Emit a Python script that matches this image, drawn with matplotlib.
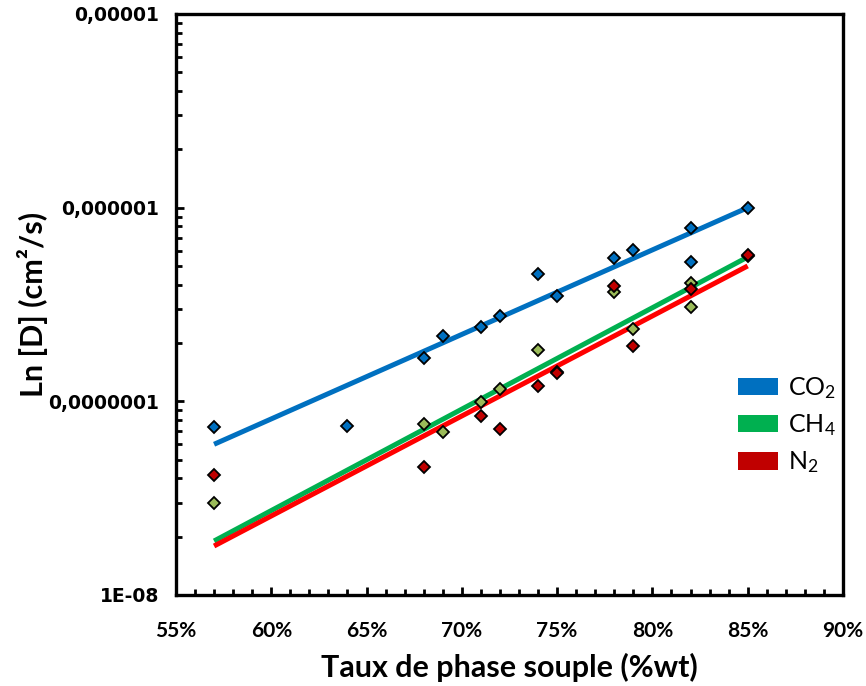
import matplotlib.pyplot as plt
import numpy as np
from matplotlib.patches import Patch
from matplotlib.ticker import FixedLocator, MultipleLocator, LogLocator, NullFormatter

plt.rcParams['mathtext.fontset'] = 'custom'
plt.rcParams['mathtext.rm'] = 'Lato'
plt.rcParams['mathtext.it'] = 'Lato:italic'
plt.rcParams['mathtext.bf'] = 'Lato:bold'

# Données (taux de phase souple en %, D en cm²/s)
x_co2 = [57, 64, 68, 69, 71, 72, 74, 75, 78, 79, 82, 82, 85]
d_co2 = [7.4e-8, 7.45e-8, 1.67e-7, 2.17e-7, 2.42e-7, 2.76e-7, 4.54e-7, 3.5e-7,
         5.5e-7, 6.03e-7, 7.85e-7, 5.24e-7, 1.0e-6]

x_ch4 = [57, 68, 69, 71, 72, 74, 75, 78, 79, 82, 82, 85]
d_ch4 = [2.99e-8, 7.64e-8, 6.94e-8, 9.9e-8, 1.16e-7, 1.84e-7, 1.42e-7,
         3.67e-7, 2.36e-7, 4.1e-7, 3.07e-7, 5.6e-7]

x_n2 = [57, 68, 71, 72, 74, 75, 78, 79, 82, 85]
d_n2 = [4.17e-8, 4.58e-8, 8.4e-8, 7.2e-8, 1.2e-7, 1.4e-7, 3.94e-7, 1.93e-7,
        3.8e-7, 5.69e-7]

# Courbes de tendance (exponentielles) : extrémités
x_fit = [57, 85]
fit_co2 = [6.0e-8, 1.0e-6]
fit_ch4 = [1.9e-8, 5.56e-7]
fit_n2 = [1.79e-8, 5.0e-7]

series = [
    ('CO$_2$', x_co2, d_co2, fit_co2, '#0070C0', '#0070C0'),
    ('CH$_4$', x_ch4, d_ch4, fit_ch4, '#00B050', '#9BBB59'),
    ('N$_2$', x_n2, d_n2, fit_n2, '#FF0000', '#C00000'),
]
legend_colors = ['#0070C0', '#00B050', '#C00000']

y_ticks = [1e-8, 1e-7, 1e-6, 1e-5]
y_labels = ['1E-08', '0,0000001', '0,000001', '0,00001']
x_ticks = [55, 60, 65, 70, 75, 80, 85, 90]
x_labels = ['55%', '60%', '65%', '70%', '75%', '80%', '85%', '90%']

fig = plt.figure(figsize=(8.66, 6.86), dpi=100)
ax = fig.add_axes([0.2032, 0.1327, 0.7702, 0.8469])

for name, xs, ds, fit, lc, mc in series:
    ax.plot(x_fit, fit, color=lc, linewidth=3.6, solid_capstyle='butt', zorder=2)
for name, xs, ds, fit, lc, mc in series:
    ax.plot(xs, ds, linestyle='none', marker='D', markersize=6,
            markerfacecolor=mc, markeredgecolor='black', markeredgewidth=1.3, zorder=3)

ax.set_yscale('log')
ax.set_xlim(55, 90)
ax.set_ylim(1e-8, 1e-5)

ax.xaxis.set_major_locator(FixedLocator(x_ticks))
ax.set_xticklabels(x_labels, family='Lato', fontweight='bold', fontsize=15)
ax.xaxis.set_minor_locator(MultipleLocator(1))
ax.yaxis.set_major_locator(FixedLocator(y_ticks))
ax.set_yticklabels(y_labels, family='DejaVu Sans', fontweight='bold', fontsize=13.5)
ax.yaxis.set_minor_locator(LogLocator(base=10, subs=np.arange(2, 10)))
ax.yaxis.set_minor_formatter(NullFormatter())

ax.tick_params(axis='both', which='major', direction='in', length=6, width=2, pad=12)
ax.tick_params(axis='both', which='minor', direction='in', length=4, width=2)
ax.tick_params(axis='x', which='major', pad=19)

for sp in ax.spines.values():
    sp.set_linewidth(2.4)

ax.set_xlabel('Taux de phase souple (%wt)', family='Lato', fontweight='bold',
              fontsize=22, labelpad=8)
ax.set_ylabel('Ln [D] (cm²/s)', family='Lato', fontweight='bold', fontsize=22,
              labelpad=0)

handles = [Patch(facecolor=c, edgecolor='none') for c in legend_colors]
fig.legend(handles, [s[0] for s in series], loc='center left',
           bbox_to_anchor=(0.826, 0.38), frameon=False,
           prop={'family': 'Lato', 'size': 18}, handlelength=1.6, handleheight=0.7,
           handletextpad=0.4, labelspacing=0.45)

fig.savefig('out.png', dpi=100)
